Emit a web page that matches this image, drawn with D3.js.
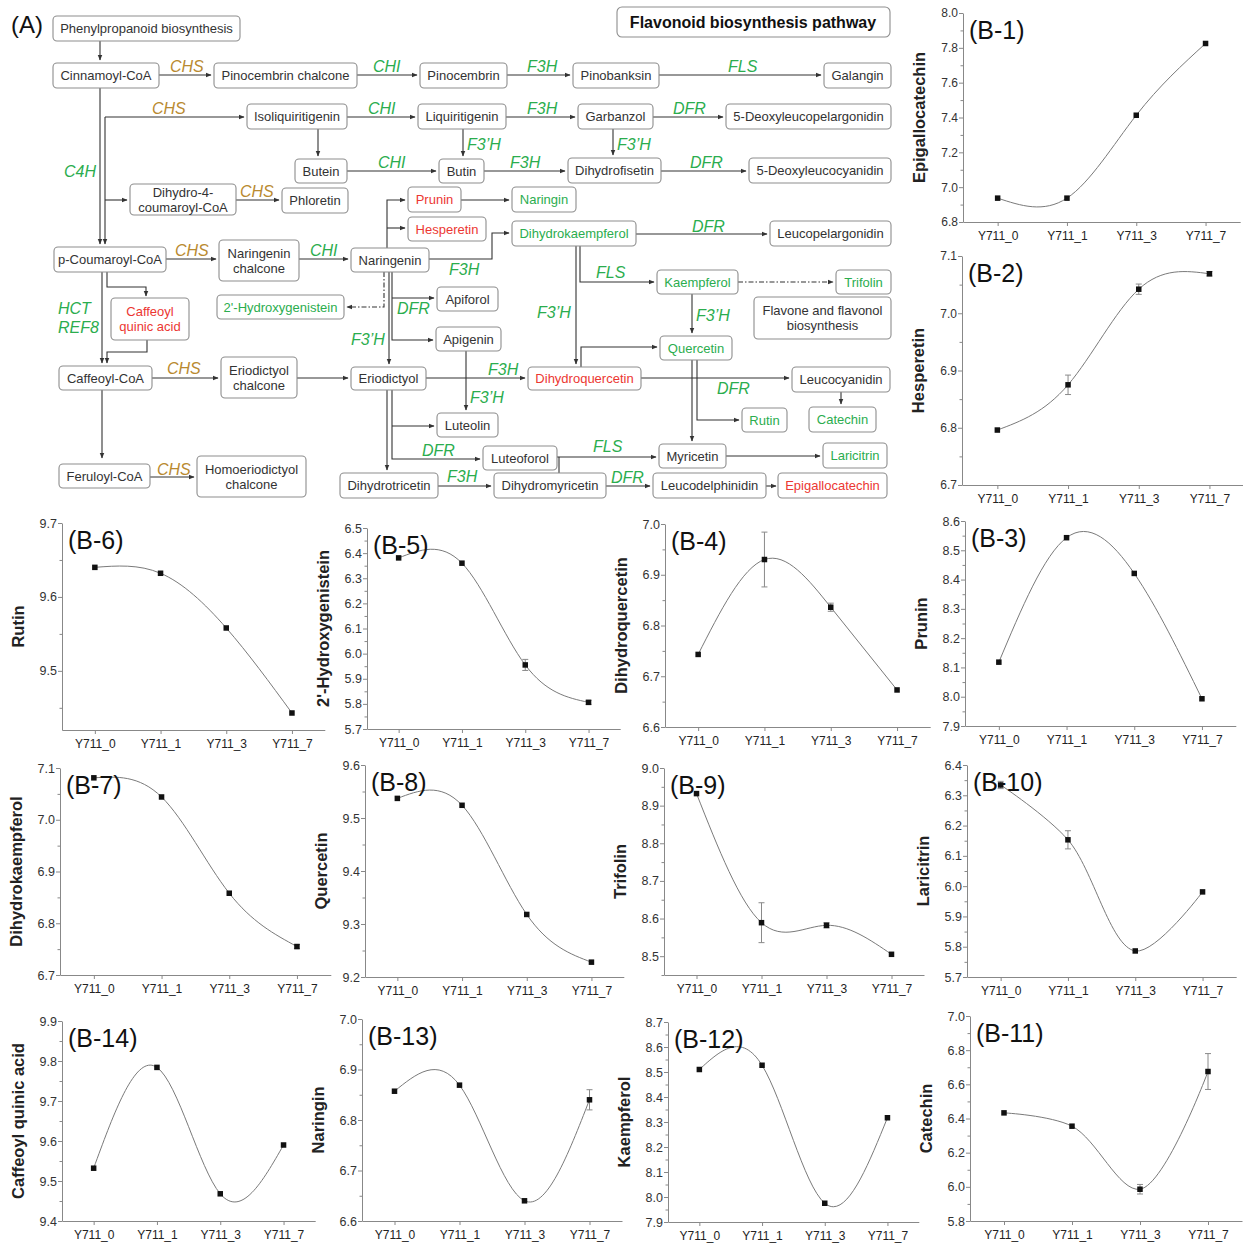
<!DOCTYPE html>
<html>
<head>
<meta charset="utf-8">
<script src="https://cdn.jsdelivr.net/npm/d3@7"></script>
<style>
  body { margin: 0; background: #fff; }
  svg { display: block; font-family: "Liberation Sans", Arial, Helvetica, sans-serif; }
</style>
</head>
<body>
<script>
// ---------- data ----------
const categories = ["Y711_0", "Y711_1", "Y711_3", "Y711_7"];

const epigallocatechin    = [6.937, 6.937, 7.413, 7.825];
const epigallocatechinErr = [0.004, 0.004, 0.005, 0.004];
const hesperetin          = [6.796, 6.875, 7.042, 7.069];
const hesperetinErr       = [0.003, 0.017, 0.009, 0.004];
const prunin              = [8.118, 8.543, 8.421, 7.993];
const pruninErr           = [0.003, 0.003, 0.003, 0.003];
const dihydroquercetin    = [6.743, 6.930, 6.836, 6.673];
const dihydroquercetinErr = [0.002, 0.054, 0.008, 0.002];
const hydroxygenistein    = [6.381, 6.360, 5.955, 5.806];
const hydroxygenisteinErr = [0.005, 0.005, 0.022, 0.008];
const rutin               = [9.640, 9.632, 9.558, 9.443];
const rutinErr            = [0.002, 0.002, 0.002, 0.002];
const dihydrokaempferol   = [7.081, 7.044, 6.858, 6.755];
const dihydrokaempferolErr= [0.002, 0.002, 0.002, 0.004];
const quercetin           = [9.537, 9.524, 9.318, 9.228];
const quercetinErr        = [0.002, 0.002, 0.003, 0.002];
const trifolin            = [8.932, 8.589, 8.582, 8.505];
const trifolinErr         = [0.002, 0.053, 0.007, 0.002];
const laricitrin          = [6.334, 6.153, 5.786, 5.981];
const laricitrinErr       = [0.012, 0.030, 0.003, 0.003];
const catechin            = [6.433, 6.355, 5.986, 6.675];
const catechinErr         = [0.008, 0.008, 0.028, 0.105];
const kaempferol          = [8.510, 8.527, 7.975, 8.317];
const kaempferolErr       = [0.004, 0.004, 0.004, 0.003];
const naringin            = [6.857, 6.869, 6.640, 6.840];
const naringinErr         = [0.003, 0.003, 0.003, 0.020];
const caffeoylQuinicAcid  = [9.532, 9.784, 9.468, 9.590];
const caffeoylQuinicErr   = [0.003, 0.003, 0.003, 0.003];

// ---------- colours ----------
const GREEN = "#2bad4e", RED = "#ec3732", BROWN = "#b98a30", BOXLINE = "#8d8d8d", INK = "#333";

const svg = d3.select("body").append("svg")
    .attr("width", 1243)
    .attr("height", 1243);

// ================= (A) pathway diagram =================
const nodes = [
  // text, x, y, w, h, colour
  ["Phenylpropanoid biosynthesis", 53, 16, 187, 25, INK],
  ["Cinnamoyl-CoA", 53, 63, 106, 25, INK],
  ["Pinocembrin chalcone", 214, 63, 143, 25, INK],
  ["Pinocembrin", 420, 63, 87, 25, INK],
  ["Pinobanksin", 573, 63, 86, 25, INK],
  ["Galangin", 824, 63, 67, 25, INK],
  ["Isoliquiritigenin", 247, 104, 100, 25, INK],
  ["Liquiritigenin", 418, 104, 88, 25, INK],
  ["Garbanzol", 578, 104, 75, 25, INK],
  ["5-Deoxyleucopelargonidin", 726, 104, 165, 25, INK],
  ["Butein", 295, 159, 52, 24, INK],
  ["Butin", 439, 159, 45, 24, INK],
  ["Dihydrofisetin", 568, 158, 93, 25, INK],
  ["5-Deoxyleucocyanidin", 749, 158, 142, 25, INK],
  ["Dihydro-4-\ncoumaroyl-CoA", 130, 184, 106, 31, INK],
  ["Phloretin", 282, 188, 66, 25, INK],
  ["Prunin", 408, 187, 53, 25, RED],
  ["Hesperetin", 408, 217, 78, 24, RED],
  ["Naringin", 512, 187, 64, 25, GREEN],
  ["Dihydrokaempferol", 512, 221, 124, 25, GREEN],
  ["Leucopelargonidin", 770, 221, 121, 25, INK],
  ["p-Coumaroyl-CoA", 54, 247, 112, 25, INK],
  ["Naringenin\nchalcone", 219, 240, 80, 41, INK],
  ["Naringenin", 351, 248, 78, 24, INK],
  ["Kaempferol", 657, 270, 81, 24, GREEN],
  ["Trifolin", 836, 270, 55, 24, GREEN],
  ["Flavone and flavonol\nbiosynthesis", 754, 297, 137, 42, INK],
  ["2'-Hydroxygenistein", 217, 295, 127, 24, GREEN],
  ["Apiforol", 437, 287, 61, 24, INK],
  ["Caffeoyl\nquinic acid", 111, 298, 78, 42, RED],
  ["Apigenin", 436, 327, 65, 24, INK],
  ["Quercetin", 660, 336, 72, 24, GREEN],
  ["Caffeoyl-CoA", 59, 366, 93, 24, INK],
  ["Eriodictyol\nchalcone", 221, 357, 76, 41, INK],
  ["Eriodictyol", 351, 367, 75, 23, INK],
  ["Dihydroquercetin", 528, 367, 113, 23, RED],
  ["Leucocyanidin", 792, 367, 98, 25, INK],
  ["Rutin", 742, 408, 45, 24, GREEN],
  ["Catechin", 809, 407, 67, 25, GREEN],
  ["Luteolin", 437, 413, 61, 24, INK],
  ["Luteoforol", 483, 446, 74, 24, INK],
  ["Myricetin", 659, 444, 67, 24, INK],
  ["Laricitrin", 823, 443, 64, 25, GREEN],
  ["Feruloyl-CoA", 59, 464, 91, 24, INK],
  ["Homoeriodictyol\nchalcone", 197, 456, 109, 41, INK],
  ["Dihydrotricetin", 340, 473, 98, 25, INK],
  ["Dihydromyricetin", 494, 473, 112, 25, INK],
  ["Leucodelphinidin", 653, 473, 113, 25, INK],
  ["Epigallocatechin", 778, 473, 109, 25, RED]
];

// polylines, [points, arrowhead?, dashed?]
const links = [
  [[[100,41],[100,60]], true],
  [[[159,75],[211,75]], true],
  [[[357,75],[417,75]], true],
  [[[507,75],[570,75]], true],
  [[[659,75],[821,75]], true],
  [[[100,88],[100,244]], true],
  [[[105,117],[105,244]], true],
  [[[105,117],[244,117]], true],
  [[[105,200],[127,200]], true],
  [[[347,117],[415,117]], true],
  [[[506,117],[575,117]], true],
  [[[653,117],[723,117]], true],
  [[[318,129],[318,156]], true],
  [[[347,171],[436,171]], true],
  [[[463,129],[463,156]], true],
  [[[484,171],[565,171]], true],
  [[[613,129],[613,155]], true],
  [[[661,171],[746,171]], true],
  [[[236,200],[279,200]], true],
  [[[387,248],[387,200],[405,200]], true],
  [[[387,228],[405,228]], true],
  [[[461,200],[509,200]], true],
  [[[429,259],[492,259],[492,233],[509,233]], true],
  [[[636,234],[767,234]], true],
  [[[166,259],[216,259]], true],
  [[[299,259],[348,259]], true],
  [[[384,272],[384,307],[347,307]], true, true],
  [[[389,272],[389,364]], true],
  [[[392,272],[392,340],[433,340]], true],
  [[[392,298],[434,298]], true],
  [[[466,351],[466,410]], true],
  [[[426,378],[525,378]], true],
  [[[576,246],[576,364]], true],
  [[[580,246],[580,282],[654,282]], true],
  [[[738,282],[833,282]], true, true],
  [[[692,294],[692,333]], true],
  [[[581,367],[581,347],[657,347]], true],
  [[[641,378],[789,378]], true],
  [[[841,392],[841,404]], true],
  [[[692,360],[692,441]], true],
  [[[697,360],[697,420],[739,420]], true],
  [[[387,390],[387,470]], true],
  [[[392,390],[392,459],[480,459]], true],
  [[[392,426],[434,426]], true],
  [[[438,486],[491,486]], true],
  [[[559,473],[559,457]], false],
  [[[557,457],[656,457]], true],
  [[[726,456],[820,456]], true],
  [[[606,486],[650,486]], true],
  [[[766,486],[776,486]], true],
  [[[102,272],[102,363]], true],
  [[[107,272],[107,287],[146,287],[146,296]], true],
  [[[147,340],[147,352],[107,352],[107,363]], true],
  [[[152,378],[218,378]], true],
  [[[297,378],[348,378]], true],
  [[[102,390],[102,458]], true],
  [[[150,477],[194,477]], true]
];

// enzyme labels: text, x, baseline, colour
const enzymes = [
  ["CHS",170,72,BROWN], ["CHS",152,114,BROWN], ["CHS",240,197,BROWN],
  ["CHS",175,256,BROWN], ["CHS",167,374,BROWN], ["CHS",157,475,BROWN],
  ["CHI",373,72,GREEN], ["CHI",368,114,GREEN], ["CHI",378,168,GREEN], ["CHI",310,256,GREEN],
  ["F3H",527,72,GREEN], ["F3H",527,114,GREEN], ["F3H",510,168,GREEN],
  ["F3H",449,275,GREEN], ["F3H",488,375,GREEN], ["F3H",447,482,GREEN],
  ["FLS",728,72,GREEN], ["FLS",596,278,GREEN], ["FLS",593,452,GREEN],
  ["DFR",673,114,GREEN], ["DFR",690,168,GREEN], ["DFR",692,232,GREEN],
  ["DFR",397,314,GREEN], ["DFR",717,394,GREEN], ["DFR",422,456,GREEN], ["DFR",611,483,GREEN],
  ["F3\u2019H",467,150,GREEN], ["F3\u2019H",617,150,GREEN], ["F3\u2019H",537,318,GREEN],
  ["F3\u2019H",351,345,GREEN], ["F3\u2019H",470,403,GREEN], ["F3\u2019H",696,321,GREEN],
  ["C4H",64,177,GREEN], ["HCT",58,314,GREEN], ["REF8",58,333,GREEN]
];

svg.append("defs").append("marker")
    .attr("id", "arrow")
    .attr("viewBox", "0 0 10 10")
    .attr("refX", 9).attr("refY", 5)
    .attr("markerWidth", 6).attr("markerHeight", 6)
    .attr("markerUnits", "userSpaceOnUse")
    .attr("orient", "auto")
    .append("path").attr("d", "M0,1L10,5L0,9Z").attr("fill", INK);

const diagram = svg.append("g");

diagram.selectAll(".link")
    .data(links)
    .enter().append("path")
    .attr("d", d => d3.line()(d[0]))
    .attr("fill", "none")
    .attr("stroke", INK)
    .attr("stroke-width", 1.1)
    .attr("stroke-dasharray", d => d[2] ? "5,2,1.5,2" : null)
    .attr("marker-end", d => d[1] ? "url(#arrow)" : null);

const nodeG = diagram.selectAll(".node")
    .data(nodes)
    .enter().append("g");

nodeG.append("rect")
    .attr("x", d => d[1]).attr("y", d => d[2])
    .attr("width", d => d[3]).attr("height", d => d[4])
    .attr("rx", 4)
    .attr("fill", "#fff")
    .attr("stroke", BOXLINE)
    .attr("stroke-width", 1.1);

nodeG.each(function(d) {
    const lines = d[0].split("\n");
    const cx = d[1] + d[3] / 2, cy = d[2] + d[4] / 2;
    const t = d3.select(this).append("text")
        .attr("text-anchor", "middle")
        .style("font-size", "13px")
        .attr("fill", d[5]);
    lines.forEach((l, i) => {
        t.append("tspan")
            .attr("x", cx)
            .attr("y", cy + 4.5 + (i - (lines.length - 1) / 2) * 15)
            .text(l);
    });
});

diagram.selectAll(".enz")
    .data(enzymes)
    .enter().append("text")
    .attr("x", d => d[1]).attr("y", d => d[2])
    .attr("fill", d => d[3])
    .style("font-size", "16px")
    .style("font-style", "italic")
    .text(d => d[0]);

// title box
diagram.append("rect")
    .attr("x", 617).attr("y", 7).attr("width", 273).attr("height", 30)
    .attr("rx", 5).attr("fill", "#fff").attr("stroke", BOXLINE).attr("stroke-width", 1.1);
diagram.append("text")
    .attr("x", 753).attr("y", 28)
    .attr("text-anchor", "middle")
    .style("font-size", "16px").style("font-weight", "bold")
    .attr("fill", "#111")
    .text("Flavonoid biosynthesis pathway");

diagram.append("text")
    .attr("x", 11).attr("y", 33)
    .style("font-size", "24px")
    .attr("fill", "#111")
    .text("(A)");

// ================= (B) line charts =================
const panels = [
  {tag:"B-1",  name:"Epigallocatechin",      v:epigallocatechin,   e:epigallocatechinErr,  dom:[6.8,8.0],  major:0.2, left:963, top:13,   bottom:222,  step:69.3, wide:true},
  {tag:"B-2",  name:"Hesperetin",            v:hesperetin,         e:hesperetinErr,        dom:[6.7,7.1],  major:0.1, left:962, top:256,  bottom:485,  step:70.7, wide:true},
  {tag:"B-6",  name:"Rutin",                 v:rutin,              e:rutinErr,             dom:[9.42,9.7], major:0.1, left:62,  top:523,  bottom:730,  step:65.7},
  {tag:"B-5",  name:"2'-Hydroxygenistein",   v:hydroxygenistein,   e:hydroxygenisteinErr,  dom:[5.7,6.5],  major:0.1, left:367, top:528,  bottom:729,  step:63.3},
  {tag:"B-4",  name:"Dihydroquercetin",      v:dihydroquercetin,   e:dihydroquercetinErr,  dom:[6.6,7.0],  major:0.1, left:665, top:524,  bottom:727,  step:66.3},
  {tag:"B-3",  name:"Prunin",                v:prunin,             e:pruninErr,            dom:[7.9,8.6],  major:0.1, left:965, top:521,  bottom:726,  step:67.7},
  {tag:"B-7",  name:"Dihydrokaempferol",     v:dihydrokaempferol,  e:dihydrokaempferolErr, dom:[6.7,7.1],  major:0.1, left:60,  top:768,  bottom:975,  step:67.7},
  {tag:"B-8",  name:"Quercetin",             v:quercetin,          e:quercetinErr,         dom:[9.2,9.6],  major:0.1, left:365, top:765,  bottom:977,  step:64.7},
  {tag:"B-9",  name:"Trifolin",              v:trifolin,           e:trifolinErr,          dom:[8.45,9.0], major:0.1, left:664, top:768,  bottom:975,  step:65},
  {tag:"B-10", name:"Laricitrin",            v:laricitrin,         e:laricitrinErr,        dom:[5.7,6.4],  major:0.1, left:967, top:765,  bottom:977,  step:67.3, curve:"cr"},
  {tag:"B-14", name:"Caffeoyl quinic acid",  v:caffeoylQuinicAcid, e:caffeoylQuinicErr,    dom:[9.4,9.9],  major:0.1, left:62,  top:1021, bottom:1221, step:63.3},
  {tag:"B-13", name:"Naringin",              v:naringin,           e:naringinErr,          dom:[6.6,7.0],  major:0.1, left:362, top:1019, bottom:1221, step:65},
  {tag:"B-12", name:"Kaempferol",            v:kaempferol,         e:kaempferolErr,        dom:[7.9,8.7],  major:0.1, left:668, top:1022, bottom:1222, step:62.7},
  {tag:"B-11", name:"Catechin",              v:catechin,           e:catechinErr,          dom:[5.8,7.0],  major:0.2, left:970, top:1016, bottom:1221, step:68,   curve:"cr"}
];

function tickList(dom, step) {
    const k0 = Math.ceil(dom[0] / step - 1e-6), k1 = Math.floor(dom[1] / step + 1e-6);
    return d3.range(k0, k1 + 1).map(k => +(k * step).toFixed(3));
}

panels.forEach(function(p) {
    const g = svg.append("g");
    const x = d3.scalePoint().domain(categories).range([p.left, p.left + 4 * p.step]).padding(0.5);
    const y = d3.scaleLinear().domain(p.dom).range([p.bottom, p.top]);

    const majors = tickList(p.dom, p.major);
    const minors = tickList(p.dom, p.major / 2).filter(t => !majors.some(m => Math.abs(m - t) < 1e-6));

    // minor ticks
    g.append("g")
        .attr("transform", "translate(" + p.left + ",0)")
        .call(d3.axisLeft(y).tickValues(minors).tickSize(2.5).tickFormat(""))
        .call(a => a.select(".domain").remove())
        .selectAll("line").attr("stroke", "#888");

    // y axis
    const ya = g.append("g")
        .attr("transform", "translate(" + p.left + ",0)")
        .call(d3.axisLeft(y).tickValues(majors).tickSize(4).tickSizeOuter(0).tickFormat(d3.format(".1f")));
    ya.select(".domain").attr("stroke", "#888");
    ya.selectAll(".tick line").attr("stroke", "#888");
    ya.selectAll(".tick text").attr("fill", "#333")
        .style("font-size", p.wide ? "12px" : "12.5px")
        .style("font-family", p.wide ? "'Liberation Sans',Arial,sans-serif" : "'Liberation Sans Narrow','Liberation Sans',Arial,sans-serif")
        .attr("x", -5);

    // x axis
    const xa = g.append("g")
        .attr("transform", "translate(0," + p.bottom + ")")
        .call(d3.axisBottom(x).tickSize(4).tickSizeOuter(0));
    xa.select(".domain").attr("stroke", "#888");
    xa.selectAll(".tick line").attr("stroke", "#888");
    xa.selectAll(".tick text").attr("fill", "#222").style("font-size", "12px").attr("dy", "0.95em");

    // y label
    g.append("text")
        .attr("transform", "translate(" + (p.left - 38) + "," + ((p.top + p.bottom) / 2) + ") rotate(-90)")
        .attr("text-anchor", "middle")
        .style("font-size", "16.5px")
        .style("font-weight", "bold")
        .attr("fill", "#222")
        .text(p.name);

    // spline
    const pts = categories.map((c, i) => [x(c), y(p.v[i])]);
    const curve = p.curve === "cr" ? d3.curveCatmullRom.alpha(0.5) : d3.curveNatural;
    g.append("path")
        .attr("d", d3.line().curve(curve)(pts))
        .attr("fill", "none")
        .attr("stroke", "#7a7a7a")
        .attr("stroke-width", 1);

    // error bars
    categories.forEach(function(c, i) {
        const y1 = y(p.v[i] + p.e[i]), y0 = y(p.v[i] - p.e[i]);
        if (y0 - y1 < 4) return;
        const xc = x(c);
        g.append("path")
            .attr("d", "M" + xc + "," + y0 + "V" + y1 + "M" + (xc - 3) + "," + y0 + "H" + (xc + 3) + "M" + (xc - 3) + "," + y1 + "H" + (xc + 3))
            .attr("fill", "none")
            .attr("stroke", "#8a8a8a")
            .attr("stroke-width", 1);
    });

    // markers
    g.selectAll(".pt")
        .data(categories)
        .enter().append("rect")
        .attr("x", (c) => x(c) - 2.75)
        .attr("y", (c, i) => y(p.v[i]) - 2.75)
        .attr("width", 5.5).attr("height", 5.5)
        .attr("fill", "#111");

    // panel tag
    g.append("text")
        .attr("x", p.left + 6)
        .attr("y", p.top + 26)
        .style("font-size", "25px")
        .attr("fill", "#111")
        .text("(" + p.tag + ")");
});
</script>
</body>
</html>
